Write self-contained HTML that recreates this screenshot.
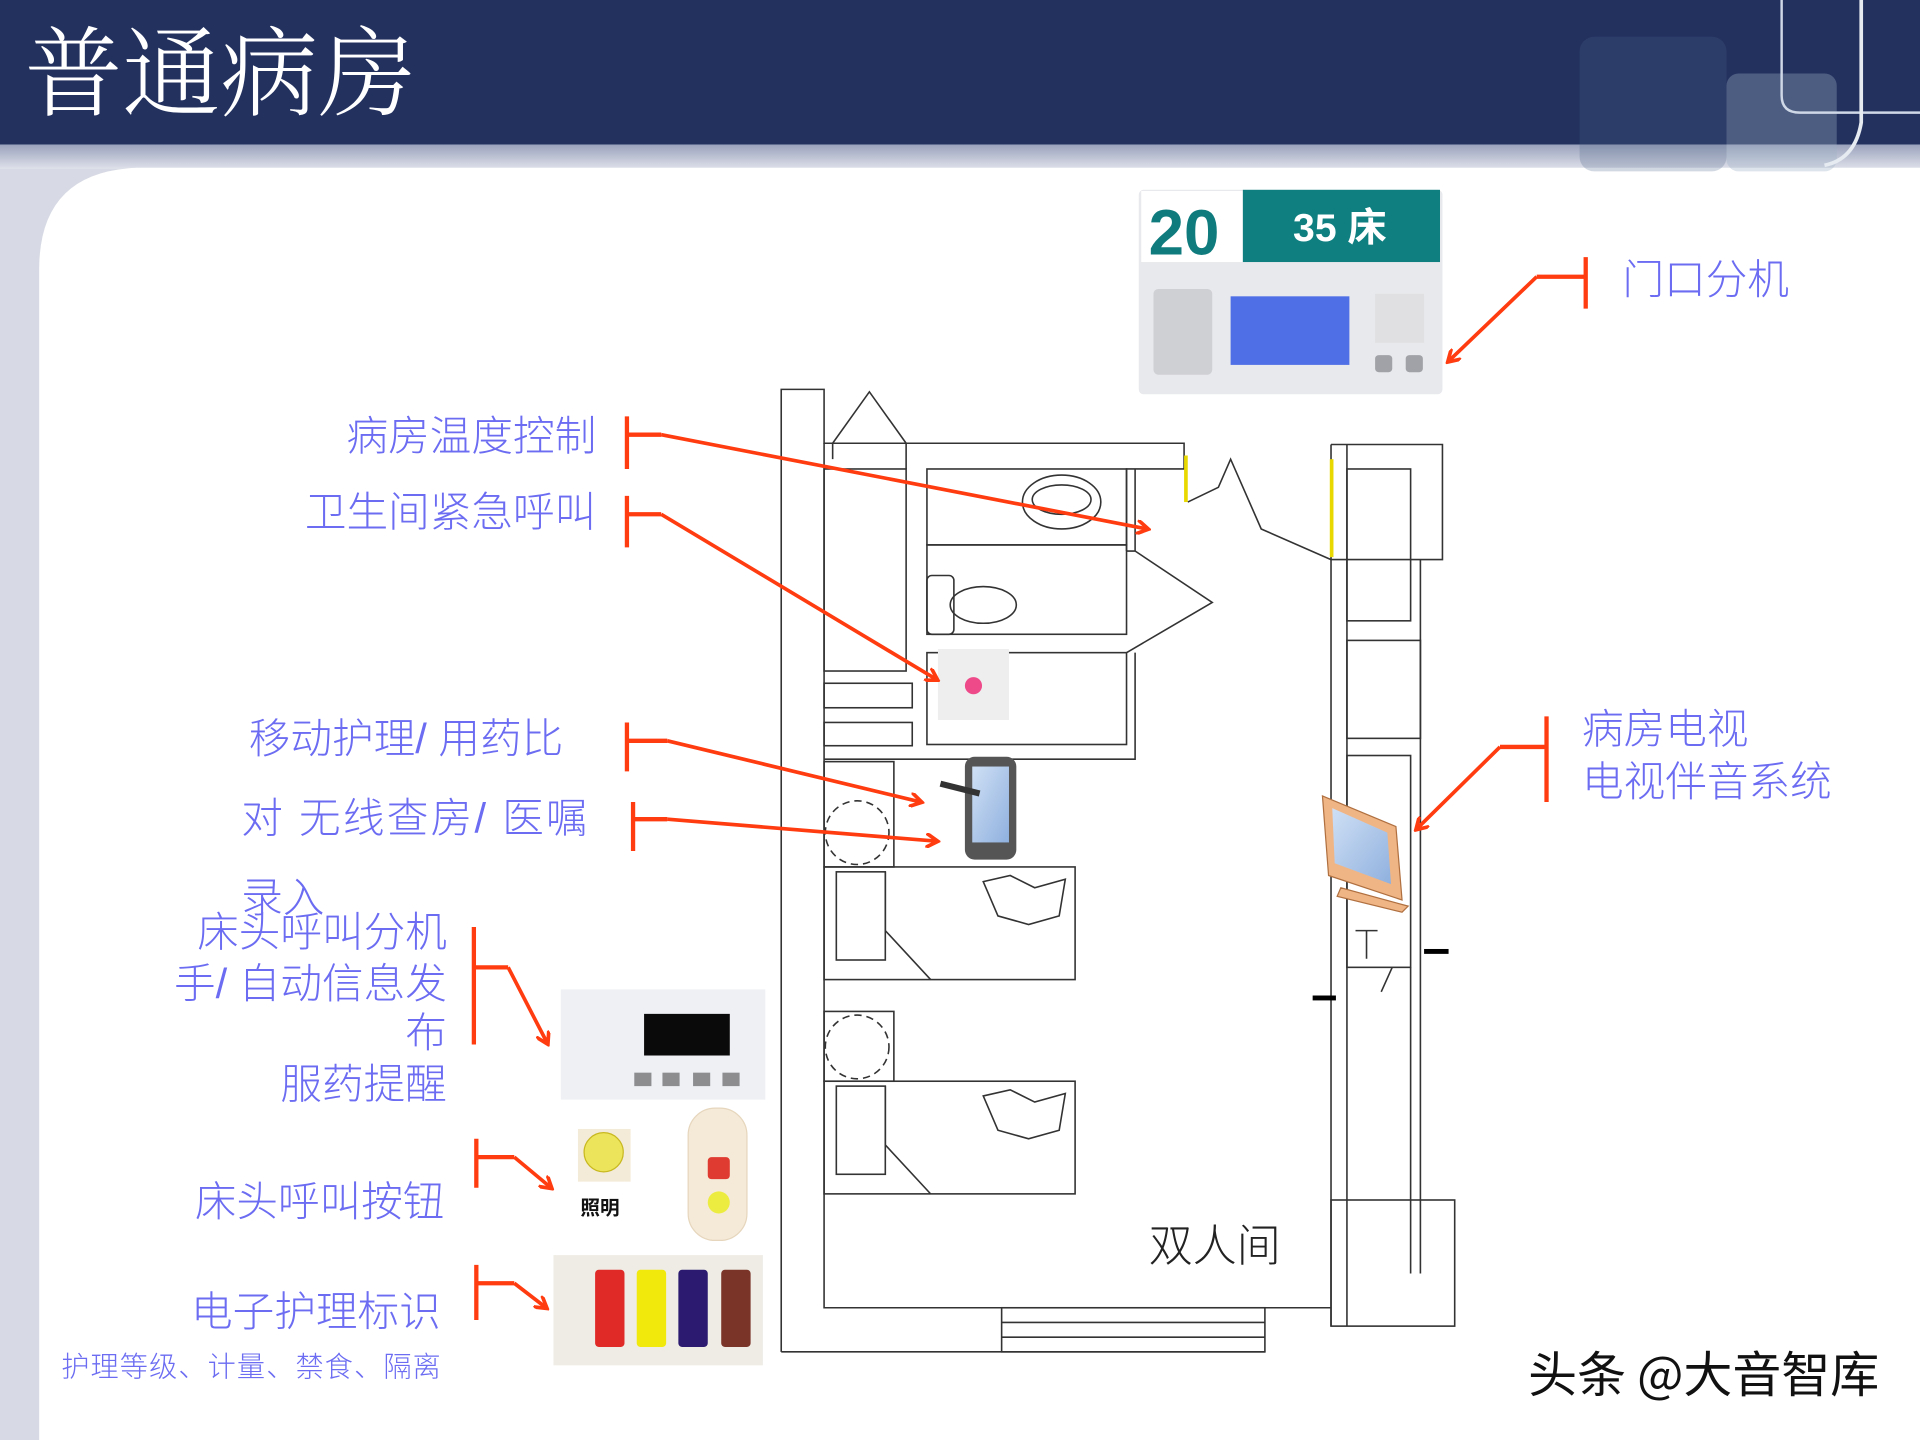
<!DOCTYPE html>
<html><head><meta charset="utf-8"><style>
html,body{margin:0;padding:0;width:1920px;height:1440px;overflow:hidden;background:#d7dae4}
svg{display:block}
.lb{font-family:"Liberation Sans","Noto Sans CJK SC",sans-serif;fill:#6b6cf2;font-size:34px;font-weight:300}
</style></head><body>
<svg width="1920" height="1440" viewBox="0 0 1568 1176" xmlns="http://www.w3.org/2000/svg">
<defs>
<linearGradient id="band" x1="0" y1="0" x2="0" y2="1"><stop offset="0" stop-color="#9aa2bc"/><stop offset="1" stop-color="#dfe1ea"/></linearGradient>
<linearGradient id="scr" x1="0" y1="0" x2="1" y2="1"><stop offset="0" stop-color="#cfe0f5"/><stop offset="1" stop-color="#8fb0de"/></linearGradient>
<marker id="ah" markerWidth="12" markerHeight="12" refX="9" refY="6" orient="auto" markerUnits="userSpaceOnUse"><path d="M0,0 L10,6 L0,12" fill="none" stroke="#ff3b10" stroke-width="3"/></marker>
</defs>
<rect x="0" y="0" width="1568" height="1176" fill="#d7dae4"/>
<rect x="0" y="118" width="1568" height="20" fill="url(#band)"/>
<path d="M32,1176 L32,220 Q32,140 112,137 L1568,137 L1568,1176 Z" fill="#ffffff"/>
<rect x="0" y="0" width="1568" height="118" fill="#23315f"/>
<rect x="1290" y="30" width="120" height="110" rx="12" fill="#4a6488" opacity="0.25"/>
<rect x="1410" y="60" width="90" height="80" rx="10" fill="#9fb2c6" opacity="0.35"/>
<path d="M1455,0 L1455,78 Q1455,92 1470,92 L1568,92" fill="none" stroke="#cfd8e6" stroke-width="2"/>
<path d="M1520,0 L1520,100 Q1515,130 1490,135" fill="none" stroke="#e6ebf2" stroke-width="3"/>
<text x="20" y="88" font-family="'Noto Serif CJK SC','Liberation Serif',serif" font-size="80" fill="#ffffff" font-weight="300">普通病房</text>

<!-- door unit -->
<rect x="930" y="155" width="248" height="167" rx="4" fill="#e8e9ec"/>
<rect x="932" y="156" width="83" height="58" fill="#ffffff"/>
<text x="938" y="208" font-family="'Liberation Sans',sans-serif" font-weight="bold" font-size="52" fill="#0f7b7d">20</text>
<rect x="1015" y="155" width="161" height="59" fill="#0f7f80"/>
<text x="1056" y="197" font-family="'Liberation Sans','Noto Sans CJK SC',sans-serif" font-weight="bold" font-size="32" fill="#fff">35  床</text>
<rect x="942" y="236" width="48" height="70" rx="4" fill="#cfd0d3"/>
<rect x="1005" y="242" width="97" height="56" fill="#4e6fe6"/>
<rect x="1123" y="240" width="40" height="40" fill="#e0e0e3"/>
<rect x="1123" y="290" width="14" height="14" rx="3" fill="#a0a2a8"/><rect x="1148" y="290" width="14" height="14" rx="3" fill="#a0a2a8"/>

<!-- floor plan -->
<g fill="none" stroke="#333" stroke-width="1.3">
<path d="M638,1104 L638,318 L673,318 L673,362 L967,362 L967,383 L920,383 L920,450"/>
<path d="M673,362 L673,1068 L1087,1068"/>
<path d="M638,1104 L1033,1104"/>
<rect x="818" y="1068" width="215" height="36"/><path d="M818,1080 H1033 M818,1092 H1033"/>
<path d="M680,362 L710,320 L740,362 M680,375 L680,362 M740,383 L740,362"/>
<rect x="673" y="383" width="67" height="165"/>
<rect x="673" y="558" width="72" height="20"/><rect x="673" y="590" width="72" height="19"/>
<rect x="757" y="383" width="163" height="62"/>
<rect x="757" y="445" width="163" height="73"/>
<rect x="757" y="533" width="163" height="75"/>
<path d="M927,383 L927,450 M920,450 L927,450 L990,492 L920,533 M927,533 L927,620 L673,620"/>
<ellipse cx="867" cy="410" rx="32" ry="22"/><ellipse cx="867" cy="408" rx="24" ry="12"/>
<rect x="757" y="470" width="22" height="48" rx="4"/><ellipse cx="803" cy="494" rx="27" ry="15"/>
<path d="M970,410 L995,398 L1005,375 L1030,432 L1087,457"/>
<path d="M1087,363 L1178,363 L1178,457 L1087,457 M1087,363 L1087,1083 M1100,363 L1100,1083"/>
<rect x="1100" y="383" width="52" height="124"/>
<rect x="1100" y="523" width="60" height="80"/>
<rect x="1100" y="617" width="52" height="173"/>
<path d="M1160,457 L1160,1040 M1152,790 L1152,1040"/>
<rect x="1087" y="980" width="101" height="103"/>
<path d="M1107,760 L1125,760 M1116,760 L1116,783 M1128,810 L1137,790"/>
<rect x="673" y="708" width="205" height="92"/><rect x="673" y="883" width="205" height="92"/>
<rect x="683" y="712" width="40" height="72"/><rect x="683" y="887" width="40" height="72"/>
<path d="M723,712 L723,760 L760,800 M723,887 L723,935 L760,975"/>
<path d="M803,720 L825,715 L845,725 L870,718 L865,748 L840,755 L815,748 Z M803,895 L825,890 L845,900 L870,893 L865,923 L840,930 L815,923 Z"/>
<rect x="673" y="622" width="57" height="86"/><rect x="673" y="826" width="57" height="57"/>
<circle cx="700" cy="680" r="26" stroke-dasharray="6 4"/><circle cx="700" cy="855" r="26" stroke-dasharray="6 4"/>
</g>
<rect x="1163" y="775" width="20" height="4" fill="#000"/><rect x="1072" y="813" width="19" height="4" fill="#000"/>
<rect x="967" y="372" width="3" height="38" fill="#e8d800"/><rect x="1086" y="375" width="3" height="80" fill="#e8d800"/>
<text x="938" y="1030" font-family="'Noto Sans CJK SC',sans-serif" font-size="36" fill="#222" font-weight="300">双人间</text>

<!-- devices in plan -->
<rect x="766" y="530" width="58" height="58" fill="#eeeeef"/><circle cx="795" cy="560" r="7" fill="#ee4a8a"/>
<rect x="788" y="618" width="42" height="84" rx="8" fill="#555"/><rect x="794" y="626" width="30" height="62" fill="url(#scr)"/>
<path d="M768,640 L800,648" stroke="#333" stroke-width="5"/>
<path d="M1080,650 L1140,675 L1145,735 L1085,715 Z" fill="#f0b585" stroke="#b07040"/>
<path d="M1088,660 L1133,680 L1136,722 L1090,705 Z" fill="url(#scr)"/>
<path d="M1095,725 L1150,740 L1145,745 L1092,732 Z" fill="#f0b585" stroke="#b07040"/>

<!-- bottom-left devices -->
<rect x="458" y="808" width="167" height="90" fill="#eef0f4"/>
<rect x="526" y="828" width="70" height="34" fill="#0a0a0a"/>
<g fill="#8d8d90"><rect x="518" y="876" width="14" height="11"/><rect x="541" y="876" width="14" height="11"/><rect x="566" y="876" width="14" height="11"/><rect x="590" y="876" width="14" height="11"/></g>
<rect x="472" y="922" width="43" height="43" fill="#f3ead8"/><circle cx="493" cy="941" r="16" fill="#ece45a" stroke="#c8b820"/>
<text x="474" y="992" font-family="'Noto Sans CJK SC',sans-serif" font-size="16" font-weight="bold" fill="#111">照明</text>
<rect x="562" y="905" width="48" height="108" rx="22" fill="#f5ead8" stroke="#e6d6bd"/>
<rect x="578" y="945" width="18" height="18" rx="3" fill="#e03b30"/><circle cx="587" cy="982" r="9" fill="#ecec40"/>
<rect x="452" y="1025" width="171" height="90" fill="#eeece4"/>
<rect x="486" y="1037" width="24" height="63" rx="3" fill="#e02a28"/><rect x="520" y="1037" width="24" height="63" rx="3" fill="#f1e80c"/>
<rect x="554" y="1037" width="24" height="63" rx="3" fill="#2b1a70"/><rect x="589" y="1037" width="24" height="63" rx="3" fill="#7a3428"/>

<!-- connectors -->
<g fill="none" stroke="#ff3b10" stroke-width="3.5">
<path d="M1295,210 V252 M1295,226 H1255"/>
<path d="M512,340 V383 M512,355 H540"/>
<path d="M512,405 V447 M512,420 H540"/>
<path d="M512,590 V630 M512,605 H545"/>
<path d="M517,655 V695 M517,669 H545"/>
<path d="M387,757 V853 M387,790 H415"/>
<path d="M389,930 V970 M389,945 H420"/>
<path d="M389,1033 V1078 M389,1048 H420"/>
<path d="M1263,585 V655 M1263,610 H1225"/>
</g>
<g fill="none" stroke="#ff3b10" stroke-width="3" marker-end="url(#ah)">
<path d="M1255,226 L1183,295"/>
<path d="M540,355 L937,432"/>
<path d="M540,420 L765,555"/>
<path d="M545,605 L752,655"/>
<path d="M545,669 L765,687"/>
<path d="M415,790 L447,852"/>
<path d="M420,945 L450,970"/>
<path d="M420,1048 L446,1068"/>
<path d="M1225,610 L1157,677"/>
</g>

<!-- labels -->
<text class="lb" x="1325" y="240">门口分机</text>
<text class="lb" x="487" y="368" text-anchor="end">病房温度控制</text>
<text class="lb" x="487" y="430" text-anchor="end">卫生间紧急呼叫</text>
<text class="lb" x="460" y="615" text-anchor="end">移动护理/ 用药比</text>
<text class="lb" x="197" y="680" textLength="283" lengthAdjust="spacing">对  无线查房/ 医嘱</text>
<text class="lb" x="197" y="745">录入</text>
<text class="lb" x="365" y="773" text-anchor="end">床头呼叫分机</text>
<text class="lb" x="365" y="815" text-anchor="end">手/ 自动信息发</text>
<text class="lb" x="365" y="855" text-anchor="end">布</text>
<text class="lb" x="365" y="897" text-anchor="end">服药提醒</text>
<text class="lb" x="363" y="993" text-anchor="end">床头呼叫按钮</text>
<text class="lb" x="360" y="1083" text-anchor="end">电子护理标识</text>
<text class="lb" x="50" y="1124" style="font-size:23px" textLength="310" lengthAdjust="spacing">护理等级、计量、禁食、隔离</text>
<text class="lb" x="1292" y="607">病房电视</text>
<text class="lb" x="1292" y="650">电视伴音系统</text>
<text x="1248" y="1137" font-family="'Noto Sans CJK SC',sans-serif" font-size="40" fill="#111">头条 @大音智库</text>
</svg>
</body></html>
